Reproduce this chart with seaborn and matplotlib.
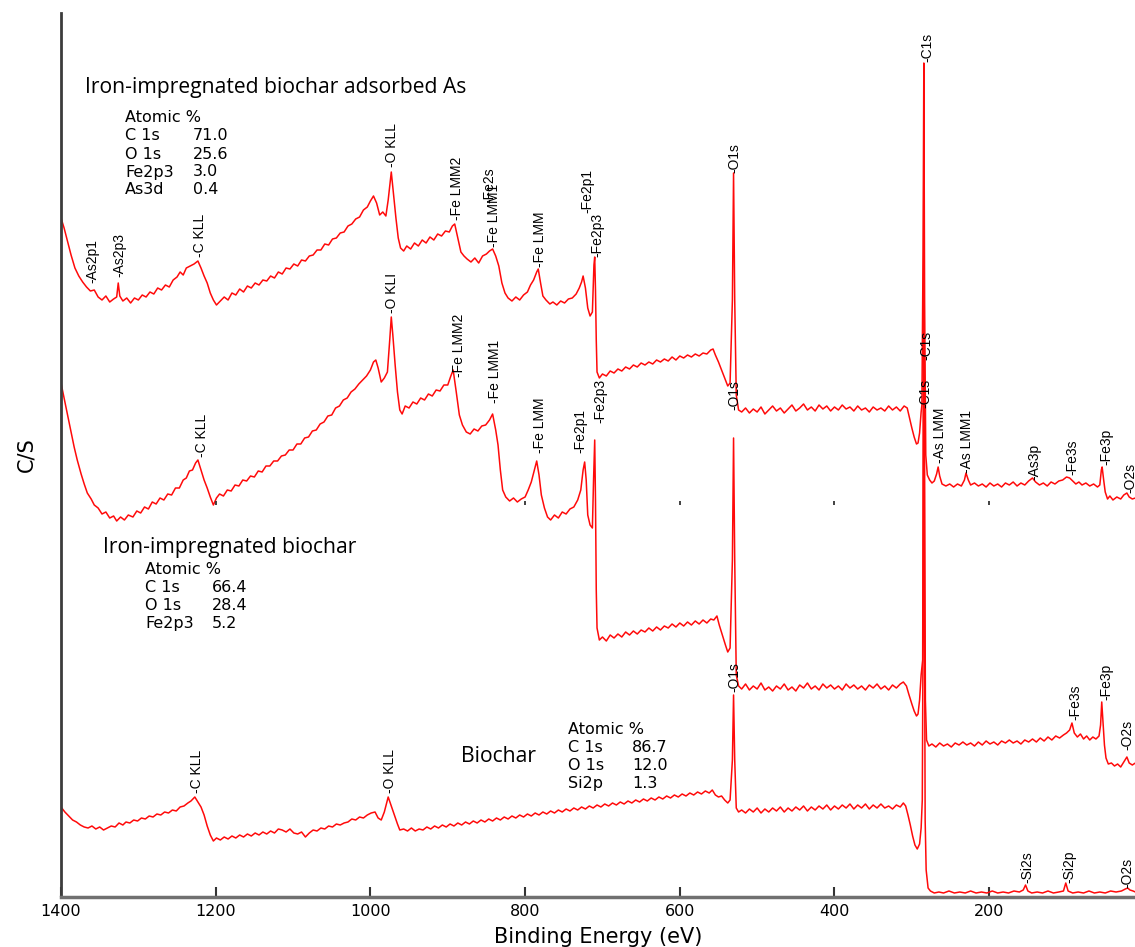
import pandas as pd
import seaborn as sns
import matplotlib.pyplot as plt

# ==========================================
# DATA (binding energy in eV, intensity in arbitrary C/S units)
# ==========================================
SAMPLES = ["Iron-impregnated biochar adsorbed As", "Iron-impregnated biochar", "Biochar"]

AS_ENERGY = [
    1400, 1396, 1392, 1387, 1382, 1377, 1372, 1367, 1362, 1357,
    1352, 1347, 1342, 1337, 1332, 1328, 1326, 1324, 1320, 1315,
    1310, 1305, 1300, 1295, 1290, 1285, 1280, 1275, 1270, 1265,
    1260, 1255, 1250, 1246, 1242, 1238, 1233, 1228, 1223, 1219,
    1215, 1211, 1207, 1203, 1199, 1194, 1189, 1184, 1179, 1174,
    1169, 1164, 1159, 1154, 1149, 1144, 1139, 1134, 1129, 1124,
    1119, 1114, 1109, 1104, 1099, 1094, 1089, 1084, 1079, 1074,
    1069, 1064, 1059, 1054, 1049, 1044, 1039, 1034, 1029, 1024,
    1019, 1014, 1009, 1004, 1000, 996, 992, 988, 984, 980,
    977, 973, 970, 967, 964, 961, 957, 953, 948, 943,
    938, 933, 928, 923, 918, 913, 908, 903, 898, 894,
    891, 887, 883, 879, 875, 870, 865, 860, 855, 850,
    846, 842, 838, 834, 830, 826, 822, 817, 812, 807,
    802, 797, 793, 789, 785, 783, 780, 777, 773, 768,
    764, 759, 754, 749, 744, 739, 734, 730, 727, 725,
    722, 719, 716, 713, 711, 710, 709, 708, 707, 704,
    700, 695, 690, 685, 680, 675, 670, 665, 660, 655,
    650, 645, 640, 635, 630, 625, 620, 615, 610, 605,
    600, 595, 590, 585, 580, 575, 570, 565, 560, 557,
    554, 550, 546, 542, 538, 535, 532, 530.5, 529, 527,
    524, 520, 515, 510, 505, 500, 495, 490, 485, 480,
    475, 470, 465, 460, 455, 450, 445, 440, 435, 430,
    425, 420, 415, 410, 405, 400, 395, 390, 385, 380,
    375, 370, 365, 360, 355, 350, 345, 340, 335, 330,
    325, 320, 315, 310, 306, 303, 300, 297, 294, 292,
    290, 288, 287, 285.5, 284.5, 283.5, 282, 280, 277, 274,
    271, 268, 266, 264, 261, 256, 251, 246, 241, 236,
    232, 230, 227, 224, 219, 214, 209, 204, 199, 194,
    189, 184, 179, 174, 169, 164, 159, 154, 149, 144,
    140, 135, 130, 125, 120, 115, 110, 105, 100, 96,
    92, 88, 84, 80, 75, 70, 65, 60, 57, 55,
    54, 52, 50, 47, 44, 40, 35, 30, 26, 22,
    19, 15, 11,
]
AS_CPS = [
    679, 669, 657, 642, 629, 621, 615, 610, 606, 607,
    600, 597, 601, 595, 598, 600, 614, 601, 596, 599,
    594, 599, 597, 602, 600, 605, 603, 609, 607, 612,
    610, 617, 620, 625, 622, 629, 631, 633, 636, 629,
    621, 614, 604, 597, 592, 596, 600, 597, 604, 602,
    608, 605, 611, 609, 614, 612, 617, 616, 621, 619,
    625, 623, 629, 628, 633, 631, 637, 636, 641, 642,
    647, 647, 653, 652, 658, 659, 664, 665, 671, 673,
    678, 680, 687, 690, 696, 701, 694, 682, 685, 681,
    697, 725, 702, 679, 659, 649, 646, 651, 648, 654,
    651, 657, 654, 660, 657, 663, 661, 666, 665, 671,
    673, 659, 645, 641, 638, 635, 639, 634, 641, 643,
    646, 648, 641, 631, 614, 604, 599, 596, 600, 597,
    602, 605, 612, 617, 625, 628, 614, 601, 597, 593,
    595, 592, 596, 594, 598, 599, 603, 609, 615, 621,
    609, 589, 581, 585, 632, 640, 607, 557, 525, 519,
    523, 521, 526, 524, 528, 526, 530, 528, 532, 530,
    534, 532, 535, 533, 537, 535, 538, 536, 540, 537,
    541, 539, 542, 540, 543, 541, 544, 543, 547, 548,
    542, 535, 527, 519, 511, 514, 597, 724, 597, 502,
    487, 485, 489, 484, 488, 485, 490, 483, 487, 491,
    486, 489, 484, 488, 492, 486, 489, 493, 487, 490,
    486, 492, 488, 491, 486, 490, 487, 492, 488, 490,
    486, 491, 487, 489, 485, 490, 487, 489, 486, 491,
    487, 490, 486, 491, 489, 479, 469, 460, 453, 454,
    464, 485, 492, 647, 834, 597, 442, 422, 417, 414,
    416, 423, 430, 421, 413, 411, 413, 410, 413, 411,
    417, 424, 417, 412, 414, 411, 413, 410, 414, 411,
    413, 410, 414, 412, 415, 411, 414, 412, 416, 419,
    415, 412, 414, 411, 415, 413, 416, 417, 420, 419,
    416, 413, 415, 412, 414, 411, 413, 410, 412, 427,
    430, 417, 405, 398, 401, 397, 400, 398, 402, 404,
    400, 398, 399,
]

FE_ENERGY = [
    1400, 1396, 1392, 1387, 1383, 1379, 1374, 1370, 1366, 1361,
    1357, 1352, 1347, 1342, 1337, 1332, 1328, 1323, 1318, 1313,
    1307, 1302, 1297, 1292, 1287, 1282, 1277, 1272, 1267, 1262,
    1257, 1252, 1247, 1242, 1238, 1234, 1230, 1226, 1223, 1219,
    1215, 1211, 1207, 1203, 1199, 1195, 1190, 1185, 1180, 1175,
    1170, 1165, 1160, 1155, 1150, 1145, 1140, 1135, 1130, 1125,
    1120, 1115, 1110, 1105, 1100, 1095, 1090, 1085, 1080, 1075,
    1070, 1065, 1060, 1055, 1050, 1045, 1040, 1035, 1030, 1025,
    1020, 1015, 1010, 1005, 1000, 996, 993, 990, 986, 982,
    978, 975, 973, 971, 968, 965, 962, 959, 955, 950,
    945, 940, 935, 930, 925, 920, 915, 910, 905, 900,
    896, 893, 889, 885, 881, 876, 871, 866, 861, 856,
    851, 846, 842, 838, 835, 832, 829, 825, 820, 815,
    810, 805, 800, 796, 792, 788, 785, 782, 779, 775,
    771, 767, 762, 757, 752, 747, 742, 737, 732, 728,
    725, 723, 721, 719, 716, 713, 711.5, 710, 709, 708,
    707, 704, 700, 695, 690, 685, 680, 675, 670, 665,
    660, 655, 650, 645, 640, 635, 630, 625, 620, 615,
    610, 605, 600, 595, 590, 585, 580, 575, 570, 565,
    560, 556, 552, 549, 545, 541, 538, 535, 532, 530.5,
    529, 527, 524, 520, 515, 510, 505, 500, 495, 490,
    485, 480, 475, 470, 465, 460, 455, 450, 445, 440,
    435, 430, 425, 420, 415, 410, 405, 400, 395, 390,
    385, 380, 375, 370, 365, 360, 355, 350, 345, 340,
    335, 330, 325, 320, 315, 311, 307, 304, 300, 297,
    294, 292, 290, 288, 286, 285.2, 284.5, 283.8, 282.5, 281,
    278, 274, 269, 264, 259, 254, 249, 244, 239, 234,
    229, 224, 219, 214, 209, 204, 199, 194, 189, 184,
    179, 174, 169, 164, 159, 154, 149, 144, 139, 134,
    129, 124, 119, 114, 109, 104, 100, 96, 93, 90,
    86, 82, 78, 74, 70, 66, 62, 58, 56, 54.5,
    53, 51, 49, 46, 42, 38, 34, 30, 26, 22,
    19, 15, 11,
]
FE_CPS = [
    514, 499, 484, 465, 450, 437, 423, 413, 404, 398,
    392, 389, 383, 385, 379, 381, 376, 380, 377, 382,
    380, 386, 384, 390, 388, 395, 393, 399, 397, 403,
    402, 409, 409, 417, 419, 426, 427, 434, 437, 427,
    417, 409, 400, 392, 399, 403, 401, 407, 406, 412,
    411, 417, 416, 421, 420, 426, 425, 431, 431, 436,
    436, 441, 442, 447, 447, 453, 453, 459, 460, 466,
    467, 473, 475, 481, 482, 489, 491, 497, 499, 505,
    508, 513, 517, 521, 527, 535, 537, 529, 515, 519,
    525, 557, 580, 562, 532, 505, 487, 483, 491, 489,
    495, 493, 499, 497, 503, 501, 507, 506, 512, 512,
    521, 527, 505, 482, 472, 465, 463, 468, 466, 471,
    472, 477, 483, 467, 452, 427, 407, 400, 396, 399,
    395, 398, 400, 407, 415, 427, 436, 422, 402, 389,
    380, 377, 382, 379, 385, 383, 388, 390, 397, 407,
    427, 435, 417, 382, 372, 369, 417, 457, 397, 307,
    269, 257, 260, 256, 262, 259, 263, 260, 265, 262,
    266, 263, 267, 265, 269, 266, 270, 267, 271, 269,
    273, 270, 274, 271, 275, 272, 276, 273, 277, 274,
    278, 277, 281, 272, 262, 252, 245, 249, 337, 459,
    337, 222, 211, 208, 213, 207, 211, 208, 214, 207,
    210, 206, 211, 208, 213, 207, 210, 206, 212, 209,
    214, 208, 211, 207, 213, 209, 212, 208, 211, 207,
    213, 209, 212, 208, 211, 207, 212, 209, 213, 208,
    211, 207, 212, 209, 213, 215, 211, 203, 193, 186,
    181, 183, 197, 222, 237, 497, 740, 497, 197, 157,
    151, 153, 150, 154, 151, 153, 150, 154, 152, 155,
    152, 154, 151, 155, 152, 156, 153, 155, 152, 156,
    154, 157, 154, 156, 153, 157, 155, 158, 155, 159,
    156, 160, 157, 161, 159, 162, 164, 167, 174, 164,
    160, 163, 158, 161, 157, 160, 158, 161, 172, 195,
    177, 152, 139, 133, 134, 131, 133, 130, 135, 140,
    134, 132, 134,
]

BC_ENERGY = [
    1400, 1395, 1390, 1385, 1380, 1375, 1370, 1365, 1360, 1355,
    1350, 1345, 1340, 1335, 1330, 1325, 1320, 1316, 1311, 1306,
    1301, 1296, 1291, 1286, 1281, 1276, 1271, 1266, 1261, 1256,
    1251, 1246, 1241, 1236, 1232, 1227, 1223, 1219, 1215, 1211,
    1207, 1203, 1199, 1194, 1189, 1184, 1179, 1174, 1169, 1164,
    1159, 1154, 1149, 1144, 1139, 1134, 1129, 1124, 1119, 1114,
    1109, 1104, 1099, 1094, 1089, 1084, 1079, 1074, 1069, 1064,
    1059, 1054, 1049, 1044, 1039, 1034, 1029, 1024, 1019, 1014,
    1009, 1004, 999, 994, 990, 986, 982, 977, 973, 969,
    965, 962, 957, 952, 947, 942, 937, 932, 927, 922,
    917, 912, 907, 902, 897, 892, 887, 882, 877, 872,
    867, 862, 857, 852, 847, 842, 837, 832, 827, 822,
    817, 812, 807, 802, 797, 792, 787, 782, 777, 772,
    767, 762, 757, 752, 747, 742, 737, 732, 727, 722,
    717, 712, 707, 702, 697, 692, 687, 682, 677, 672,
    667, 662, 657, 652, 647, 642, 637, 632, 627, 622,
    617, 612, 607, 602, 597, 592, 587, 582, 577, 572,
    567, 562, 558, 554, 550, 546, 542, 538, 535, 532,
    530.5, 529, 527, 524, 520, 515, 510, 505, 500, 495,
    490, 485, 480, 475, 470, 465, 460, 455, 450, 445,
    440, 435, 430, 425, 420, 415, 410, 405, 400, 395,
    390, 385, 380, 375, 370, 365, 360, 355, 350, 345,
    340, 335, 330, 325, 320, 315, 311, 308, 305, 302,
    299, 296, 293, 290, 288, 286.5, 285.3, 284.5, 283.7, 282.8,
    281.5, 279, 276, 271, 265, 259, 252, 245, 238, 231,
    224, 217, 210, 203, 196, 189, 182, 175, 168, 161,
    156, 153, 150, 145, 138, 131, 124, 117, 110, 104,
    101, 98, 92, 85, 78, 71, 64, 57, 50, 43,
    36, 29, 24, 21, 18, 14, 11,
]
BC_CPS = [
    90, 85, 81, 77, 75, 72, 70, 69, 71, 68,
    70, 67, 69, 71, 70, 74, 72, 75, 74, 77,
    76, 79, 78, 81, 80, 83, 82, 85, 84, 87,
    86, 90, 91, 94, 96, 100, 95, 90, 82, 71,
    62, 56, 59, 57, 60, 58, 61, 59, 62, 60,
    63, 61, 64, 62, 65, 63, 66, 64, 68, 67,
    65, 68, 64, 63, 65, 60, 64, 67, 66, 69,
    68, 71, 70, 73, 72, 74, 75, 78, 77, 80,
    79, 82, 84, 85, 79, 77, 85, 100, 91, 82,
    73, 67, 68, 66, 69, 66, 68, 67, 70, 68,
    71, 69, 72, 70, 73, 71, 74, 72, 75, 73,
    76, 74, 77, 75, 78, 76, 79, 77, 80, 78,
    81, 79, 82, 80, 83, 81, 84, 82, 85, 83,
    86, 84, 87, 85, 88, 86, 89, 87, 90, 88,
    91, 89, 92, 90, 93, 91, 94, 92, 95, 93,
    96, 94, 97, 95, 98, 96, 99, 97, 100, 98,
    101, 99, 102, 100, 103, 101, 104, 102, 105, 103,
    106, 104, 107, 102, 100, 101, 97, 94, 97, 137,
    202, 137, 89, 85, 87, 84, 88, 85, 89, 84,
    88, 85, 89, 86, 90, 85, 89, 86, 90, 87,
    91, 86, 90, 87, 91, 88, 92, 87, 91, 88,
    92, 89, 93, 88, 92, 89, 93, 88, 92, 89,
    93, 89, 91, 88, 92, 90, 94, 91, 82, 72,
    61, 52, 48, 53, 69, 97, 297, 640, 297, 77,
    27, 9, 6, 4, 5, 4, 6, 4, 5, 4,
    6, 4, 5, 4, 6, 4, 5, 4, 6, 5,
    7, 12, 6, 4, 5, 4, 6, 4, 5, 6,
    14, 6, 4, 5, 4, 6, 4, 5, 4, 6,
    5, 6, 8, 9, 7, 6, 5,
]

# peak labels: (text, energy, intensity at label foot)
AS_PEAKS = [("-As2p1", 1360, 614), ("-As2p3", 1324, 620), ("-C KLL", 1220, 640),
            ("-O KLL", 972, 730), ("-Fe LMM2", 888, 677), ("-Fe LMM1", 840, 650),
            ("-Fe2s", 846, 694), ("-Fe LMM", 781, 630), ("-Fe2p1", 720, 684),
            ("-Fe2p3", 707, 640), ("-O1s", 529, 724), ("-C1s", 280, 835),
            ("-As LMM", 264, 434), ("-As LMM1", 229, 424), ("-As3p", 141, 417),
            ("-Fe3s", 93, 422), ("-Fe3p", 48, 432), ("-O2s", 18, 404)]
FE_PEAKS = [("-C KLL", 1218, 440), ("-O KLI", 972, 584), ("-Fe LMM2", 886, 520),
            ("-Fe LMM1", 839, 494), ("-Fe LMM", 781, 444), ("-Fe2p1", 729, 444),
            ("-Fe2p3", 703, 474), ("-O1s", 529, 487), ("-C1s", 281, 537),
            ("-Fe3s", 89, 177), ("-Fe3p", 48, 197), ("-O2s", 21, 147)]
BC_PEAKS = [("-C KLL", 1224, 104), ("-O KLL", 975, 104), ("-O1s", 529, 205),
            ("-C1s", 283, 489), ("-Si2s", 150, 14), ("-Si2p", 96, 14), ("-O2s", 22, 9)]

# surface composition tables
AS_COMPOSITION = [("C 1s", "71.0"), ("O 1s", "25.6"), ("Fe2p3", "3.0"), ("As3d", "0.4")]
FE_COMPOSITION = [("C 1s", "66.4"), ("O 1s", "28.4"), ("Fe2p3", "5.2")]
BC_COMPOSITION = [("C 1s", "86.7"), ("O 1s", "12.0"), ("Si2p", "1.3")]

X_TICKS = [1400, 1200, 1000, 800, 600, 400, 200]
STRAY_TICK_E = [1200, 800, 600, 400, 200]  # faint axis marks left in the middle of the figure
STRAY_TICK_LEVEL = 394

W, H = 1135, 947
OUTPUT_IMAGE = "out.png"


def fig_xy(x, y):
    """Pixel position (from top-left) -> figure fraction."""
    return x / W, 1 - y / H


def draw_block(fig, title, title_xy, table, table_xy, col2_x):
    fig.text(*fig_xy(*title_xy), title, family="Open Sans", fontsize=15.2, va="center")
    tx, ty = table_xy
    fig.text(*fig_xy(tx, ty), "Atomic %", fontsize=11.5, va="center")
    for i, (el, val) in enumerate(table):
        y = ty + 18 * (i + 1)
        fig.text(*fig_xy(tx, y), el, fontsize=11.5, va="center")
        fig.text(*fig_xy(col2_x, y), val, fontsize=11.5, va="center")


def generate_plot():
    frames = []
    for name, e, c in zip(SAMPLES, [AS_ENERGY, FE_ENERGY, BC_ENERGY], [AS_CPS, FE_CPS, BC_CPS]):
        frames.append(pd.DataFrame({"energy": e, "cps": c, "sample": name}))
    df = pd.concat(frames, ignore_index=True)

    sns.set_theme(style="white")
    plt.rcParams["font.family"] = ["DejaVu Sans"]
    plt.rcParams["text.color"] = "black"
    plt.rcParams["axes.labelcolor"] = "black"

    fig = plt.figure(figsize=(W / 100, H / 100), dpi=100)
    ax = fig.add_axes([61 / W, 50 / H, (W - 61) / W, 884 / H])

    sns.lineplot(data=df, x="energy", y="cps", hue="sample",
                 palette={s: "#ff0a0a" for s in SAMPLES},
                 estimator=None, legend=False, linewidth=1.1, ax=ax)

    ax.plot(STRAY_TICK_E, [STRAY_TICK_LEVEL] * len(STRAY_TICK_E), linestyle="none",
            marker="|", markersize=3, markeredgewidth=1.3, color="#333333")

    ax.set_xlim(1400, 11.5)
    ax.set_ylim(0, 884)
    ax.set_xticks(X_TICKS)
    ax.set_yticks([])
    ax.tick_params(axis="x", bottom=True, direction="in", length=7, width=1.5,
                   color="#333333", labelcolor="black", labelsize=11.5, pad=5)

    for side in ["top", "right"]:
        ax.spines[side].set_visible(False)
    ax.spines["left"].set_color("#3c3c3c")
    ax.spines["left"].set_linewidth(2)
    ax.spines["bottom"].set_color("#707070")
    ax.spines["bottom"].set_linewidth(2.5)

    ax.set_xlabel("Binding Energy (eV)", fontsize=15, labelpad=6)
    ax.set_ylabel("C/S", fontsize=15, labelpad=18)

    for peaks in [AS_PEAKS, FE_PEAKS, BC_PEAKS]:
        for text, e, level in peaks:
            ax.text(e, level, text, rotation=90, ha="center", va="bottom",
                    fontsize=10, family="Liberation Sans", color="black", clip_on=False)

    draw_block(fig, SAMPLES[0], (85, 88), AS_COMPOSITION, (125, 118), 193)
    draw_block(fig, SAMPLES[1], (103, 547), FE_COMPOSITION, (145, 569), 212)
    draw_block(fig, SAMPLES[2], (461, 757), BC_COMPOSITION, (568, 729), 632)

    fig.savefig(OUTPUT_IMAGE, dpi=100)


if __name__ == "__main__":
    generate_plot()
